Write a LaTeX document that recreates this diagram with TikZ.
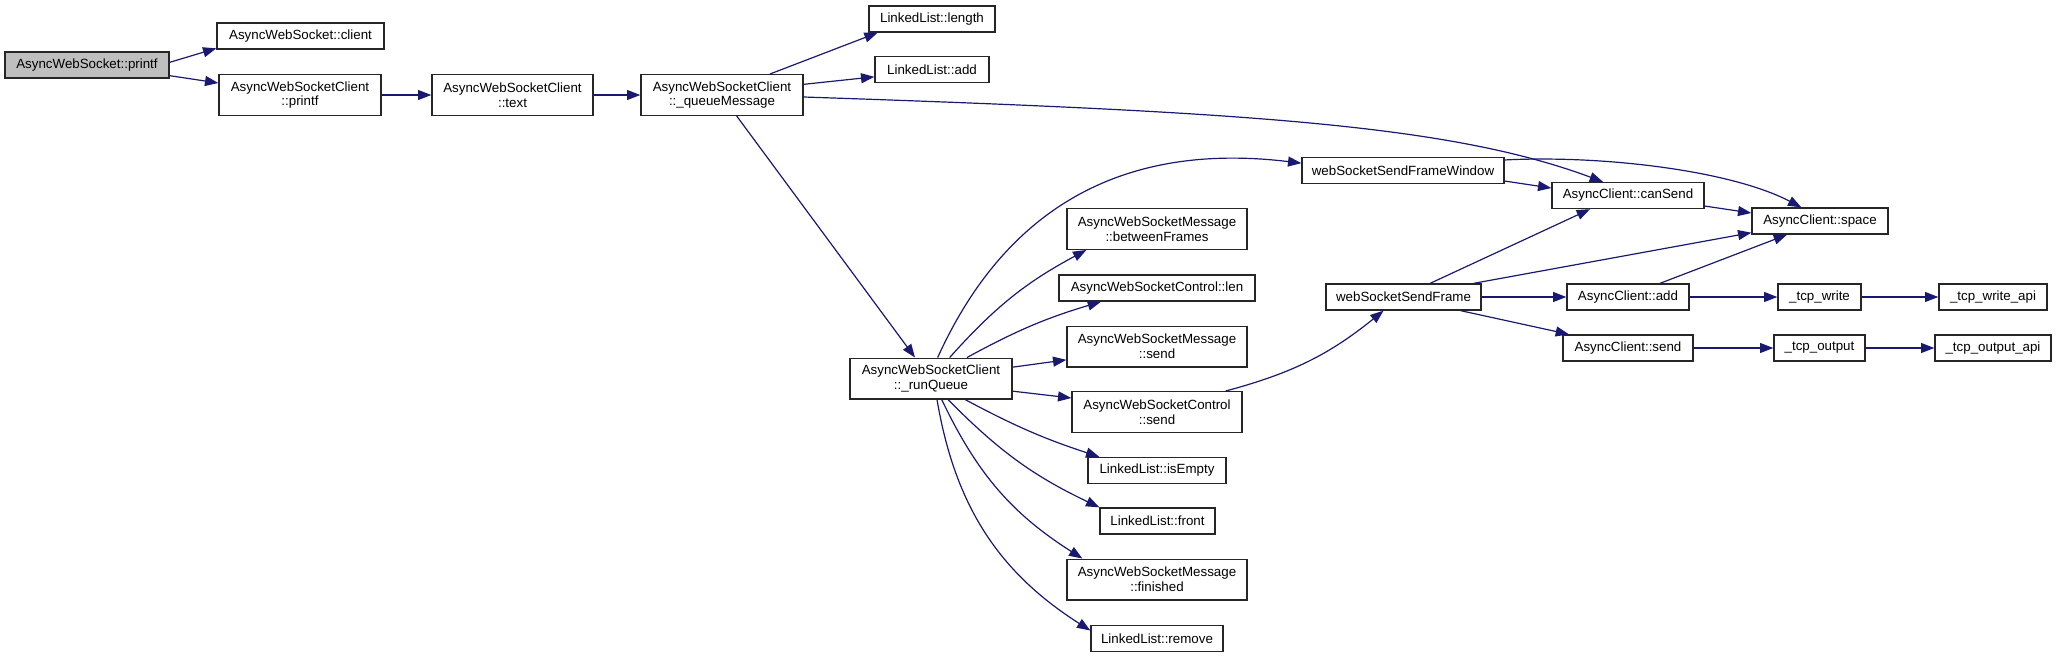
\documentclass[tikz,border=0pt]{standalone}
\usepackage{fontspec}
\setmainfont{Liberation Sans}
\usetikzlibrary{arrows.meta}
\definecolor{Navy}{HTML}{191970}
\definecolor{Gray}{HTML}{BFBFBF}

\begin{document}
\begin{tikzpicture}[x=0.75pt, y=-0.75pt,
    fn/.style={draw=black!85, line width=1pt, fill=white, inner sep=0pt,
      minimum height=19.5pt, align=center, font=\fontsize{10}{11}\selectfont},
    fn2/.style={fn, minimum height=30.5pt},
    wd/.style={minimum width=#1*0.75pt},
    call/.style={Navy, line width=0.9pt, -{Triangle[length=10pt, width=7.5pt]}}]
  \useasboundingbox (0,0) rectangle (2056,657);

  % callers on the left
  \node[fn, wd=164, fill=Gray] (printf) at (87,65) {AsyncWebSocket::printf};
  \node[fn, wd=167] (client) at (300.5,36) {AsyncWebSocket::client};
  \node[fn2, wd=162] (cprintf) at (300,95) {AsyncWebSocketClient\\::printf};
  \node[fn2, wd=161] (text) at (512.5,95) {AsyncWebSocketClient\\::text};
  \node[fn2, wd=162] (queue) at (722,95) {AsyncWebSocketClient\\::\_queueMessage};
  \node[fn, wd=126] (length) at (932,19) {LinkedList::length};
  \node[fn, wd=114] (ladd) at (932,69.5) {LinkedList::add};
  \node[fn2, wd=162] (runq) at (931,378.5) {AsyncWebSocketClient\\::\_runQueue};

  % column called from the queue
  \node[fn2, wd=180] (between) at (1157,229) {AsyncWebSocketMessage\\::betweenFrames};
  \node[fn, wd=196] (clen) at (1157,288) {AsyncWebSocketControl::len};
  \node[fn2, wd=180] (msend) at (1157,346.5) {AsyncWebSocketMessage\\::send};
  \node[fn2, wd=170] (csend) at (1157,412) {AsyncWebSocketControl\\::send};
  \node[fn, wd=138] (empty) at (1157,470.5) {LinkedList::isEmpty};
  \node[fn, wd=115] (front) at (1157.5,521) {LinkedList::front};
  \node[fn2, wd=180] (finished) at (1157,579.5) {AsyncWebSocketMessage\\::finished};
  \node[fn, wd=132] (remove) at (1157,638.5) {LinkedList::remove};

  % frames and the client
  \node[fn, wd=202] (sfw) at (1403,170.5) {webSocketSendFrameWindow};
  \node[fn, wd=152] (cansend) at (1628,195.5) {AsyncClient::canSend};
  \node[fn, wd=136] (space) at (1820,221) {AsyncClient::space};
  \node[fn, wd=155] (sframe) at (1403.5,297) {webSocketSendFrame};
  \node[fn, wd=122] (cadd) at (1628,297) {AsyncClient::add};
  \node[fn, wd=83] (tcpw) at (1819.5,297) {\_tcp\_write};
  \node[fn, wd=108] (tcpwapi) at (1993,297) {\_tcp\_write\_api};
  \node[fn, wd=130] (asend) at (1628,348) {AsyncClient::send};
  \node[fn, wd=91] (tcpo) at (1819.5,348) {\_tcp\_output};
  \node[fn, wd=116] (tcpoapi) at (1993,348) {\_tcp\_output\_api};

  \draw[call] ([yshift=2pt]printf.east) -- ([yshift=1pt]client.south west);
  \draw[call] ([yshift=-8pt]printf.east) -- ([yshift=9pt]cprintf.west);
  \draw[call] (cprintf) -- (text);
  \draw[call] (text) -- (queue);
  \draw[call] ([xshift=36pt]queue.north) -- ([xshift=7pt]length.south west);
  \draw[call] ([yshift=8pt]queue.east) -- ([yshift=-5.5pt]ladd.west);
  \draw[call] ([yshift=-1.5pt]queue.east) .. controls (1250,112) and (1450,125) .. ([xshift=-18.75pt]cansend.north);
  \draw[call] ([xshift=11pt]queue.south) -- ([xshift=-12pt]runq.north);

  \draw[call] ([xshift=5pt]runq.north) .. controls (1000,220) and (1110,140) .. ([yshift=5.5pt]sfw.west);
  \draw[call] ([xshift=14pt]runq.north) to[bend left=10] ([xshift=15pt]between.south west);
  \draw[call] ([xshift=27pt]runq.north) to[bend left=6] ([xshift=32pt]clen.south west);
  \draw[call] ([yshift=8.5pt]runq.east) -- ([yshift=-10pt]msend.west);
  \draw[call] ([yshift=-9.5pt]runq.east) -- ([yshift=10.5pt]csend.west);
  \draw[call] ([xshift=25.5pt]runq.south) to[bend right=5] ([xshift=9pt]empty.north west);
  \draw[call] ([xshift=12.75pt]runq.south) to[bend right=10] (front.north west);
  \draw[call] ([xshift=8pt]runq.south) to[bend right=16] ([xshift=12pt]finished.north west);
  \draw[call] ([xshift=4.5pt]runq.south) to[bend right=24] ([yshift=6pt]remove.west);
  \draw[call] ([xshift=-12.75pt]csend.north east) to[bend right=12] ([xshift=-15pt]sframe.south);

  \draw[call] ([yshift=-7.9pt]sfw.east) -- ([yshift=5.6pt]cansend.west);
  \draw[call] ([yshift=7.9pt]sfw.east) .. controls (1600,155) and (1730,170) .. ([xshift=-14pt]space.north);
  \draw[call] ([yshift=-7.9pt]cansend.east) -- ([yshift=6pt]space.west);
  \draw[call] ([xshift=20pt]sframe.north) -- ([xshift=-28.5pt]cansend.south);
  \draw[call] ([xshift=-6pt]sframe.north east) -- ([yshift=1.5pt]space.south west);
  \draw[call] (sframe) -- (cadd);
  \draw[call] ([xshift=-15.75pt]sframe.south east) -- ([xshift=5pt]asend.north west);
  \draw[call] ([xshift=24pt]cadd.north) -- ([xshift=-24.75pt]space.south);
  \draw[call] (cadd) -- (tcpw);
  \draw[call] (tcpw) -- (tcpwapi);
  \draw[call] (asend) -- (tcpo);
  \draw[call] (tcpo) -- (tcpoapi);
\end{tikzpicture}
\end{document}
